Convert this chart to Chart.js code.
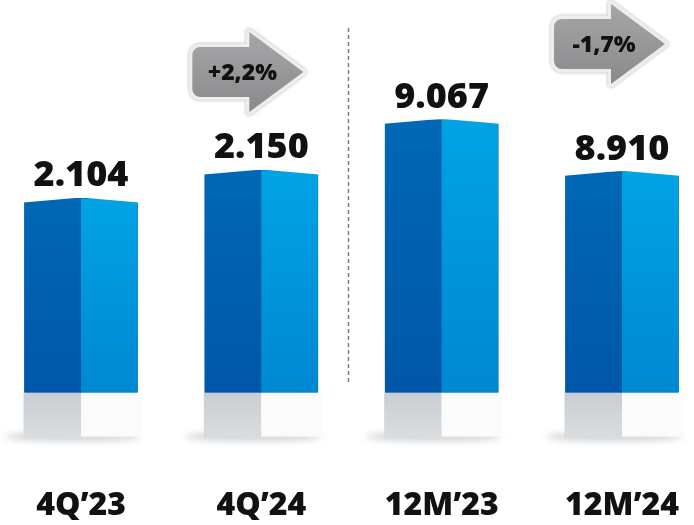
<!DOCTYPE html>
<html>
<head>
<meta charset="utf-8">
<script src="https://cdn.jsdelivr.net/npm/chart.js@4.4.1/dist/chart.umd.min.js"></script>
<style>
  html, body { margin: 0; padding: 0; background: #fff; }
  #wrap { width: 694px; height: 525px; }
</style>
</head>
<body>
<div id="wrap"><canvas id="chart"></canvas></div>
<script>
const categories = ["4Q’23", "4Q’24", "12M’23", "12M’24"];
const quarterValues = [2104, 2150, null, null];
const yearValues = [null, null, 9067, 8910];
const changeLabels = ["+2,2%", "-1,7%"];

const textFont = "'Open Sans', 'DejaVu Sans', sans-serif";

function formatValue(n) {
    return String(n).replace(/\B(?=(\d{3})+(?!\d))/g, ".");
}

// gray arrow badge with the change in percent
function drawArrow(ctx, x0, cy, text) {
    const bodyH = 25, headH = 40, headX = x0 + 57, tipX = x0 + 111, r = 8;
    ctx.save();
    ctx.beginPath();
    ctx.moveTo(x0 + r, cy - bodyH);
    ctx.lineTo(headX, cy - bodyH);
    ctx.lineTo(headX, cy - headH);
    ctx.lineTo(tipX, cy);
    ctx.lineTo(headX, cy + headH);
    ctx.lineTo(headX, cy + bodyH);
    ctx.lineTo(x0 + r, cy + bodyH);
    ctx.arcTo(x0, cy + bodyH, x0, cy + bodyH - r, r);
    ctx.lineTo(x0, cy - bodyH + r);
    ctx.arcTo(x0, cy - bodyH, x0 + r, cy - bodyH, r);
    ctx.closePath();
    ctx.lineJoin = "round";
    ctx.shadowColor = "rgba(0,0,0,0.3)";
    ctx.shadowBlur = 3;
    ctx.lineWidth = 7;
    ctx.strokeStyle = "#ededed";
    ctx.stroke();
    ctx.shadowBlur = 0;
    const g = ctx.createLinearGradient(0, cy - headH, 0, cy + headH);
    g.addColorStop(0, "#a6a6a8");
    g.addColorStop(1, "#8a8a8d");
    ctx.fillStyle = g;
    ctx.fill();
    ctx.fillStyle = "#111";
    ctx.font = "800 23px " + textFont;
    ctx.textAlign = "center";
    ctx.textBaseline = "middle";
    ctx.fillText(text, x0 + 50, cy + 1);
    ctx.restore();
}

const boxPlugin = {
    id: "boxes",
    afterDatasetsDraw(chart) {
        const ctx = chart.ctx;
        const bottom = chart.chartArea.bottom;
        const baseH = 46;
        const bars = [];
        chart.data.datasets.forEach((ds, di) => {
            chart.getDatasetMeta(di).data.forEach((bar, i) => {
                if (ds.data[i] == null) return;
                bars[i] = { el: bar, value: ds.data[i] };
            });
        });

        bars.forEach(({ el, value }) => {
            const left = el.x - el.width / 2, right = el.x + el.width / 2;
            const mid = el.x, top = el.y;
            ctx.save();

            // shadow under the base
            ctx.filter = "blur(3px)";
            ctx.fillStyle = "rgba(60,70,80,0.22)";
            ctx.beginPath();
            ctx.ellipse(mid - 8, bottom + baseH - 2, el.width / 2 + 12, 5, 0, 0, Math.PI * 2);
            ctx.fill();
            ctx.filter = "none";

            // base block
            let g = ctx.createLinearGradient(0, bottom, 0, bottom + baseH);
            g.addColorStop(0, "#c9cdd1");
            g.addColorStop(1, "#dadde0");
            ctx.fillStyle = g;
            ctx.fillRect(left - 1, bottom, mid - left + 1, baseH);
            ctx.fillStyle = "#fbfbfc";
            ctx.fillRect(mid, bottom, right - mid + 5, baseH - 2);

            // blue faces
            g = ctx.createLinearGradient(0, top, 0, bottom);
            g.addColorStop(0, "#0068b6");
            g.addColorStop(1, "#0057a7");
            ctx.fillStyle = g;
            ctx.fillRect(left, top, mid - left, bottom - top);
            g = ctx.createLinearGradient(0, top, 0, bottom);
            g.addColorStop(0, "#00a3e4");
            g.addColorStop(1, "#0088d2");
            ctx.fillStyle = g;
            ctx.fillRect(mid, top, right - mid, bottom - top);

            // slanted top edges towards the front corner
            ctx.fillStyle = "#fff";
            ctx.beginPath();
            ctx.moveTo(left - 1, top - 1);
            ctx.lineTo(mid, top - 1);
            ctx.lineTo(left - 1, top + 4);
            ctx.closePath();
            ctx.fill();
            ctx.beginPath();
            ctx.moveTo(right + 1, top - 1);
            ctx.lineTo(mid, top - 1);
            ctx.lineTo(right + 1, top + 4);
            ctx.closePath();
            ctx.fill();

            // value label
            ctx.fillStyle = "#111";
            ctx.font = "800 36px " + textFont;
            ctx.textAlign = "center";
            ctx.textBaseline = "alphabetic";
            ctx.fillText(formatValue(value), mid, top - 12);
            ctx.restore();
        });

        // dashed divider between the quarter and year groups
        const divX = (bars[1].el.x + bars[2].el.x) / 2 - 3;
        ctx.save();
        ctx.strokeStyle = "#7d7d7d";
        ctx.lineWidth = 1.5;
        ctx.setLineDash([4, 3]);
        ctx.beginPath();
        ctx.moveTo(divX, 28);
        ctx.lineTo(divX, bottom - 8);
        ctx.stroke();
        ctx.restore();

        const arrowY = [72, 44];
        drawArrow(ctx, bars[1].el.x - 69, arrowY[0], changeLabels[0]);
        drawArrow(ctx, bars[3].el.x - 68, arrowY[1], changeLabels[1]);
    }
};

const barClip = { left: false, right: false, top: false, bottom: 0 };

new Chart(document.getElementById("chart"), {
    type: "bar",
    data: {
        labels: categories,
        datasets: [
            { data: quarterValues, yAxisID: "y", backgroundColor: "#0062b1", barThickness: 113, grouped: false, clip: barClip },
            { data: yearValues, yAxisID: "y2", backgroundColor: "#0062b1", barThickness: 113, grouped: false, clip: barClip }
        ]
    },
    options: {
        responsive: true,
        maintainAspectRatio: false,
        animation: false,
        layout: { padding: { left: 81, right: 72, top: 0, bottom: 0 } },
        plugins: {
            legend: { display: false },
            tooltip: { enabled: false }
        },
        scales: {
            x: {
                offset: false,
                // invisible tick marks keep the labels below the base blocks
                grid: { display: true, drawOnChartArea: false, drawTicks: true, tickLength: 94, color: "rgba(0,0,0,0)" },
                border: { display: false },
                ticks: {
                    padding: 0,
                    color: "#111",
                    maxRotation: 0,
                    autoSkip: false,
                    font: { family: textFont, size: 32, weight: 800 }
                }
            },
            y: { display: false, min: 1785, max: 2430 },
            y2: { display: false, min: 8242, max: 9429 }
        }
    },
    plugins: [boxPlugin]
});
</script>
</body>
</html>
